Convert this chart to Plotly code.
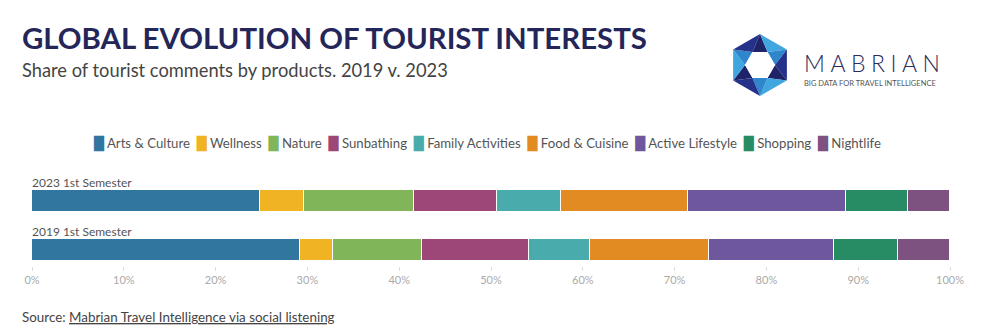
import math
import plotly.graph_objects as go

# ---------------- data ----------------
periods = ["2019 1st Semester", "2023 1st Semester"]
categories = ["Arts & Culture", "Wellness", "Nature", "Sunbathing", "Family Activities",
              "Food & Cuisine", "Active Lifestyle", "Shopping", "Nightlife"]
colors = ["#31769f", "#efb324", "#80b55a", "#9c4778", "#4aabac",
          "#e38b23", "#6e579c", "#278c64", "#7d5280"]
share_2019 = [29.2, 3.6, 9.7, 11.6, 6.7, 13.0, 13.6, 6.9, 5.7]
share_2023 = [24.8, 4.8, 12.0, 9.1, 6.9, 13.9, 17.2, 6.7, 4.6]
tick_vals = [0, 10, 20, 30, 40, 50, 60, 70, 80, 90, 100]
tick_text = [f"{v}%" for v in tick_vals]

# ---------------- layout geometry (pixels) ----------------
W, H = 1000, 334
ML, MR, MT, MB = 32, 50, 185, 68
PW = W - ML - MR
PH = H - MT - MB
FONT = "Lato"


def px2x(px):
    return (px - ML) / PW


def px2y(py):
    return (H - MB - py) / PH


fig = go.Figure()
for name, col, v19, v23 in zip(categories, colors, share_2019, share_2023):
    fig.add_trace(go.Bar(
        name=name,
        orientation="h",
        y=periods,
        x=[v19, v23],
        marker=dict(color=col, line=dict(color="white", width=1)),
        width=0.43,
        showlegend=False,
        hovertemplate="%{y}<br>" + name + ": %{x:.1f}%<extra></extra>",
    ))

annotations = []
# period labels above each bar
for p in periods:
    annotations.append(dict(
        x=0, y=p, xref="x", yref="y", text=p, showarrow=False,
        xanchor="left", yanchor="bottom", yshift=9, xshift=-2,
        font=dict(family=FONT, size=12, color="#555555"),
    ))

# title / subtitle
annotations.append(dict(
    x=px2x(20), y=px2y(37), xref="paper", yref="paper",
    text="<b>GLOBAL EVOLUTION OF TOURIST INTERESTS</b>", showarrow=False,
    xanchor="left", yanchor="middle",
    font=dict(family=FONT, size=29.4, color="#24265a"),
))
annotations.append(dict(
    x=px2x(20), y=px2y(70), xref="paper", yref="paper",
    text="Share of tourist comments by products. 2019 v. 2023", showarrow=False,
    xanchor="left", yanchor="middle",
    font=dict(family=FONT, size=18.3, color="#444444"),
))

# legend (built from categories / colors)
nb = "\u00a0"
legend_parts = [
    f'<span style="color:{c};font-family:DejaVu Sans;font-size:13px">█</span>{nb}{n}'
    for n, c in zip(categories, colors)
]
annotations.append(dict(
    x=px2x(487), y=px2y(143), xref="paper", yref="paper",
    text=(nb * 2).join(legend_parts), showarrow=False,
    xanchor="center", yanchor="middle",
    font=dict(family=FONT, size=13.2, color="#555555"),
))

# logo text
annotations.append(dict(
    x=px2x(802), y=px2y(63), xref="paper", yref="paper",
    text='<span style="letter-spacing:5.5px">MABRIAN</span>', showarrow=False,
    xanchor="left", yanchor="middle",
    font=dict(family=FONT, size=23, color="#2b2d5c", weight=300),
))
annotations.append(dict(
    x=px2x(802), y=px2y(83), xref="paper", yref="paper",
    text="BIG DATA FOR TRAVEL INTELLIGENCE", showarrow=False,
    xanchor="left", yanchor="middle",
    font=dict(family=FONT, size=7.5, color="#555555"),
))

# source
annotations.append(dict(
    x=px2x(20), y=px2y(317), xref="paper", yref="paper",
    text="Source: <u>Mabrian Travel Intelligence via social listening</u>", showarrow=False,
    xanchor="left", yanchor="middle",
    font=dict(family=FONT, size=13.4, color="#444444"),
))

# logo hexagon (decoration)
cx, cy, R, r = 760, 65, 31, 15
outer = [(cx + R * math.cos(math.radians(-90 + 60 * k)), cy + R * math.sin(math.radians(-90 + 60 * k))) for k in range(6)]
inner = [(cx + r * math.cos(math.radians(-120 + 60 * k)), cy + r * math.sin(math.radians(-120 + 60 * k))) for k in range(6)]


def path(pts):
    return "M " + " L ".join(f"{px2x(a):.5f},{px2y(b):.5f}" for a, b in pts) + " Z"


shapes = []
tri_cols_a = ["#1f2468", "#2f86cc", "#1f2468", "#2f86cc", "#1f2468", "#2f86cc"]
tri_cols_b = ["#3fa6e0", "#24328a", "#3fa6e0", "#24328a", "#3fa6e0", "#24328a"]
for k in range(6):
    o = outer[k]
    o2 = outer[(k + 1) % 6]
    i1 = inner[k]
    i2 = inner[(k + 1) % 6]
    shapes.append(dict(type="path", xref="paper", yref="paper", path=path([o, i2, i1]),
                       fillcolor=tri_cols_a[k], line=dict(width=0)))
    shapes.append(dict(type="path", xref="paper", yref="paper", path=path([o, o2, i2]),
                       fillcolor=tri_cols_b[k], line=dict(width=0)))
shapes.append(dict(type="path", xref="paper", yref="paper", path=path(inner),
                   fillcolor="white", line=dict(width=0)))

fig.update_layout(
    width=W, height=H,
    margin=dict(l=ML, r=MR, t=MT, b=MB),
    barmode="stack",
    bargap=0,
    plot_bgcolor="white",
    paper_bgcolor="white",
    showlegend=False,
    font=dict(family=FONT),
    xaxis=dict(
        range=[0, 100], tickvals=tick_vals, ticktext=tick_text,
        showgrid=False, zeroline=False, showline=False,
        ticks="outside", ticklen=4, tickcolor="#dddddd",
        tickfont=dict(family=FONT, size=11, color="#aaaaaa"),
        fixedrange=True,
    ),
    yaxis=dict(
        type="category", categoryorder="array", categoryarray=periods,
        range=[-0.327, 1.327], showticklabels=False, showgrid=False,
        zeroline=False, showline=False, ticks="", fixedrange=True,
    ),
    annotations=annotations,
    shapes=shapes,
)

fig.write_html("out.html")
